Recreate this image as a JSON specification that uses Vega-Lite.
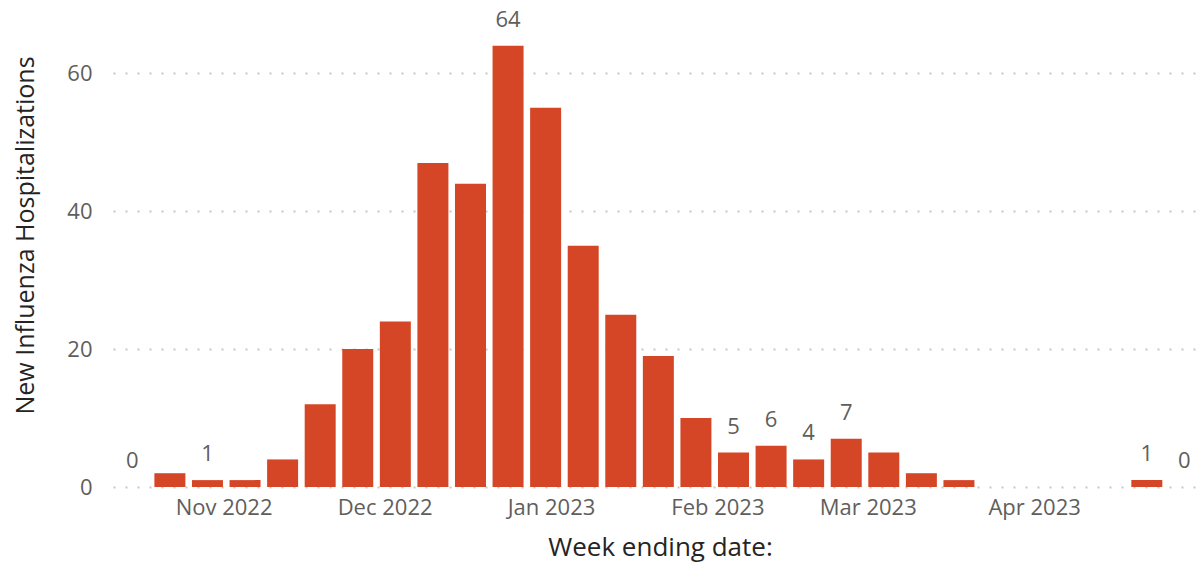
{
  "$schema": "https://vega.github.io/schema/vega-lite/v6.json",
  "width": 1084,
  "height": 455,
  "autosize": {"type": "none"},
  "padding": {"left": 113, "top": 32, "right": 5, "bottom": 77},
  "background": "white",
  "config": {"view": {"stroke": null}, "font": "Open Sans"},
  "data": {
    "values": [
      {"date": "2022-10-15", "value": 0, "label": 0},
      {"date": "2022-10-22", "value": 2},
      {"date": "2022-10-29", "value": 1, "label": 1},
      {"date": "2022-11-05", "value": 1},
      {"date": "2022-11-12", "value": 4},
      {"date": "2022-11-19", "value": 12},
      {"date": "2022-11-26", "value": 20},
      {"date": "2022-12-03", "value": 24},
      {"date": "2022-12-10", "value": 47},
      {"date": "2022-12-17", "value": 44},
      {"date": "2022-12-24", "value": 64, "label": 64},
      {"date": "2022-12-31", "value": 55},
      {"date": "2023-01-07", "value": 35},
      {"date": "2023-01-14", "value": 25},
      {"date": "2023-01-21", "value": 19},
      {"date": "2023-01-28", "value": 10},
      {"date": "2023-02-04", "value": 5, "label": 5},
      {"date": "2023-02-11", "value": 6, "label": 6},
      {"date": "2023-02-18", "value": 4, "label": 4},
      {"date": "2023-02-25", "value": 7, "label": 7},
      {"date": "2023-03-04", "value": 5},
      {"date": "2023-03-11", "value": 2},
      {"date": "2023-03-18", "value": 1},
      {"date": "2023-03-25", "value": 0},
      {"date": "2023-04-01", "value": 0},
      {"date": "2023-04-08", "value": 0},
      {"date": "2023-04-15", "value": 0},
      {"date": "2023-04-22", "value": 1, "label": 1},
      {"date": "2023-04-29", "value": 0, "label": 0}
    ]
  },
  "encoding": {
    "x": {
      "field": "date",
      "type": "temporal",
      "scale": {
        "type": "utc",
        "nice": false,
        "domain": [
          {"year": 2022, "month": 10, "date": 12, "hours": 8, "utc": true},
          {"year": 2023, "month": 4, "date": 30, "hours": 10, "utc": true}
        ]
      },
      "axis": {
        "values": [
          {"year": 2022, "month": 11, "date": 1, "utc": true},
          {"year": 2022, "month": 12, "date": 1, "utc": true},
          {"year": 2023, "month": 1, "date": 1, "utc": true},
          {"year": 2023, "month": 2, "date": 1, "utc": true},
          {"year": 2023, "month": 3, "date": 1, "utc": true},
          {"year": 2023, "month": 4, "date": 1, "utc": true}
        ],
        "labelExpr": "utcFormat(datum.value, '%b %Y')",
        "labelFontSize": 22,
        "labelColor": "#605E5C",
        "labelPadding": 10,
        "labelFlush": false,
        "labelOverlap": false,
        "ticks": false,
        "domain": false,
        "grid": false,
        "title": "Week ending date:",
        "titleFontSize": 26,
        "titleColor": "#252423",
        "titleFontWeight": 500,
        "titleBaseline": "alphabetic",
        "titleY": 68,
        "titleX": 547,
        "titleAlign": "center"
      }
    }
  },
  "layer": [
    {
      "mark": {"type": "bar", "size": 31, "color": "#D54627"},
      "encoding": {
        "y": {
          "field": "value",
          "type": "quantitative",
          "scale": {"domain": [0, 66], "nice": false},
          "axis": {
            "values": [0, 20, 40, 60],
            "grid": true,
            "gridDash": [2, 10],
            "gridColor": "#C8C6C4",
            "gridWidth": 2,
            "domain": false,
            "ticks": false,
            "labelPadding": 21,
            "labelFontSize": 22,
            "labelColor": "#605E5C",
            "title": "New Influenza Hospitalizations",
            "titleFontSize": 25,
            "titleColor": "#252423",
            "titleFontWeight": 500,
            "titleAngle": -90,
            "titleAlign": "center",
            "titleBaseline": "alphabetic",
            "titleX": -80,
            "titleY": 203
          }
        }
      }
    },
    {
      "transform": [{"filter": "datum.label != null"}],
      "mark": {"type": "text", "dy": -19, "baseline": "alphabetic", "align": "center", "fontSize": 22, "color": "#605E5C"},
      "encoding": {
        "y": {"field": "value", "type": "quantitative"},
        "text": {"field": "label", "type": "quantitative"}
      }
    }
  ]
}
